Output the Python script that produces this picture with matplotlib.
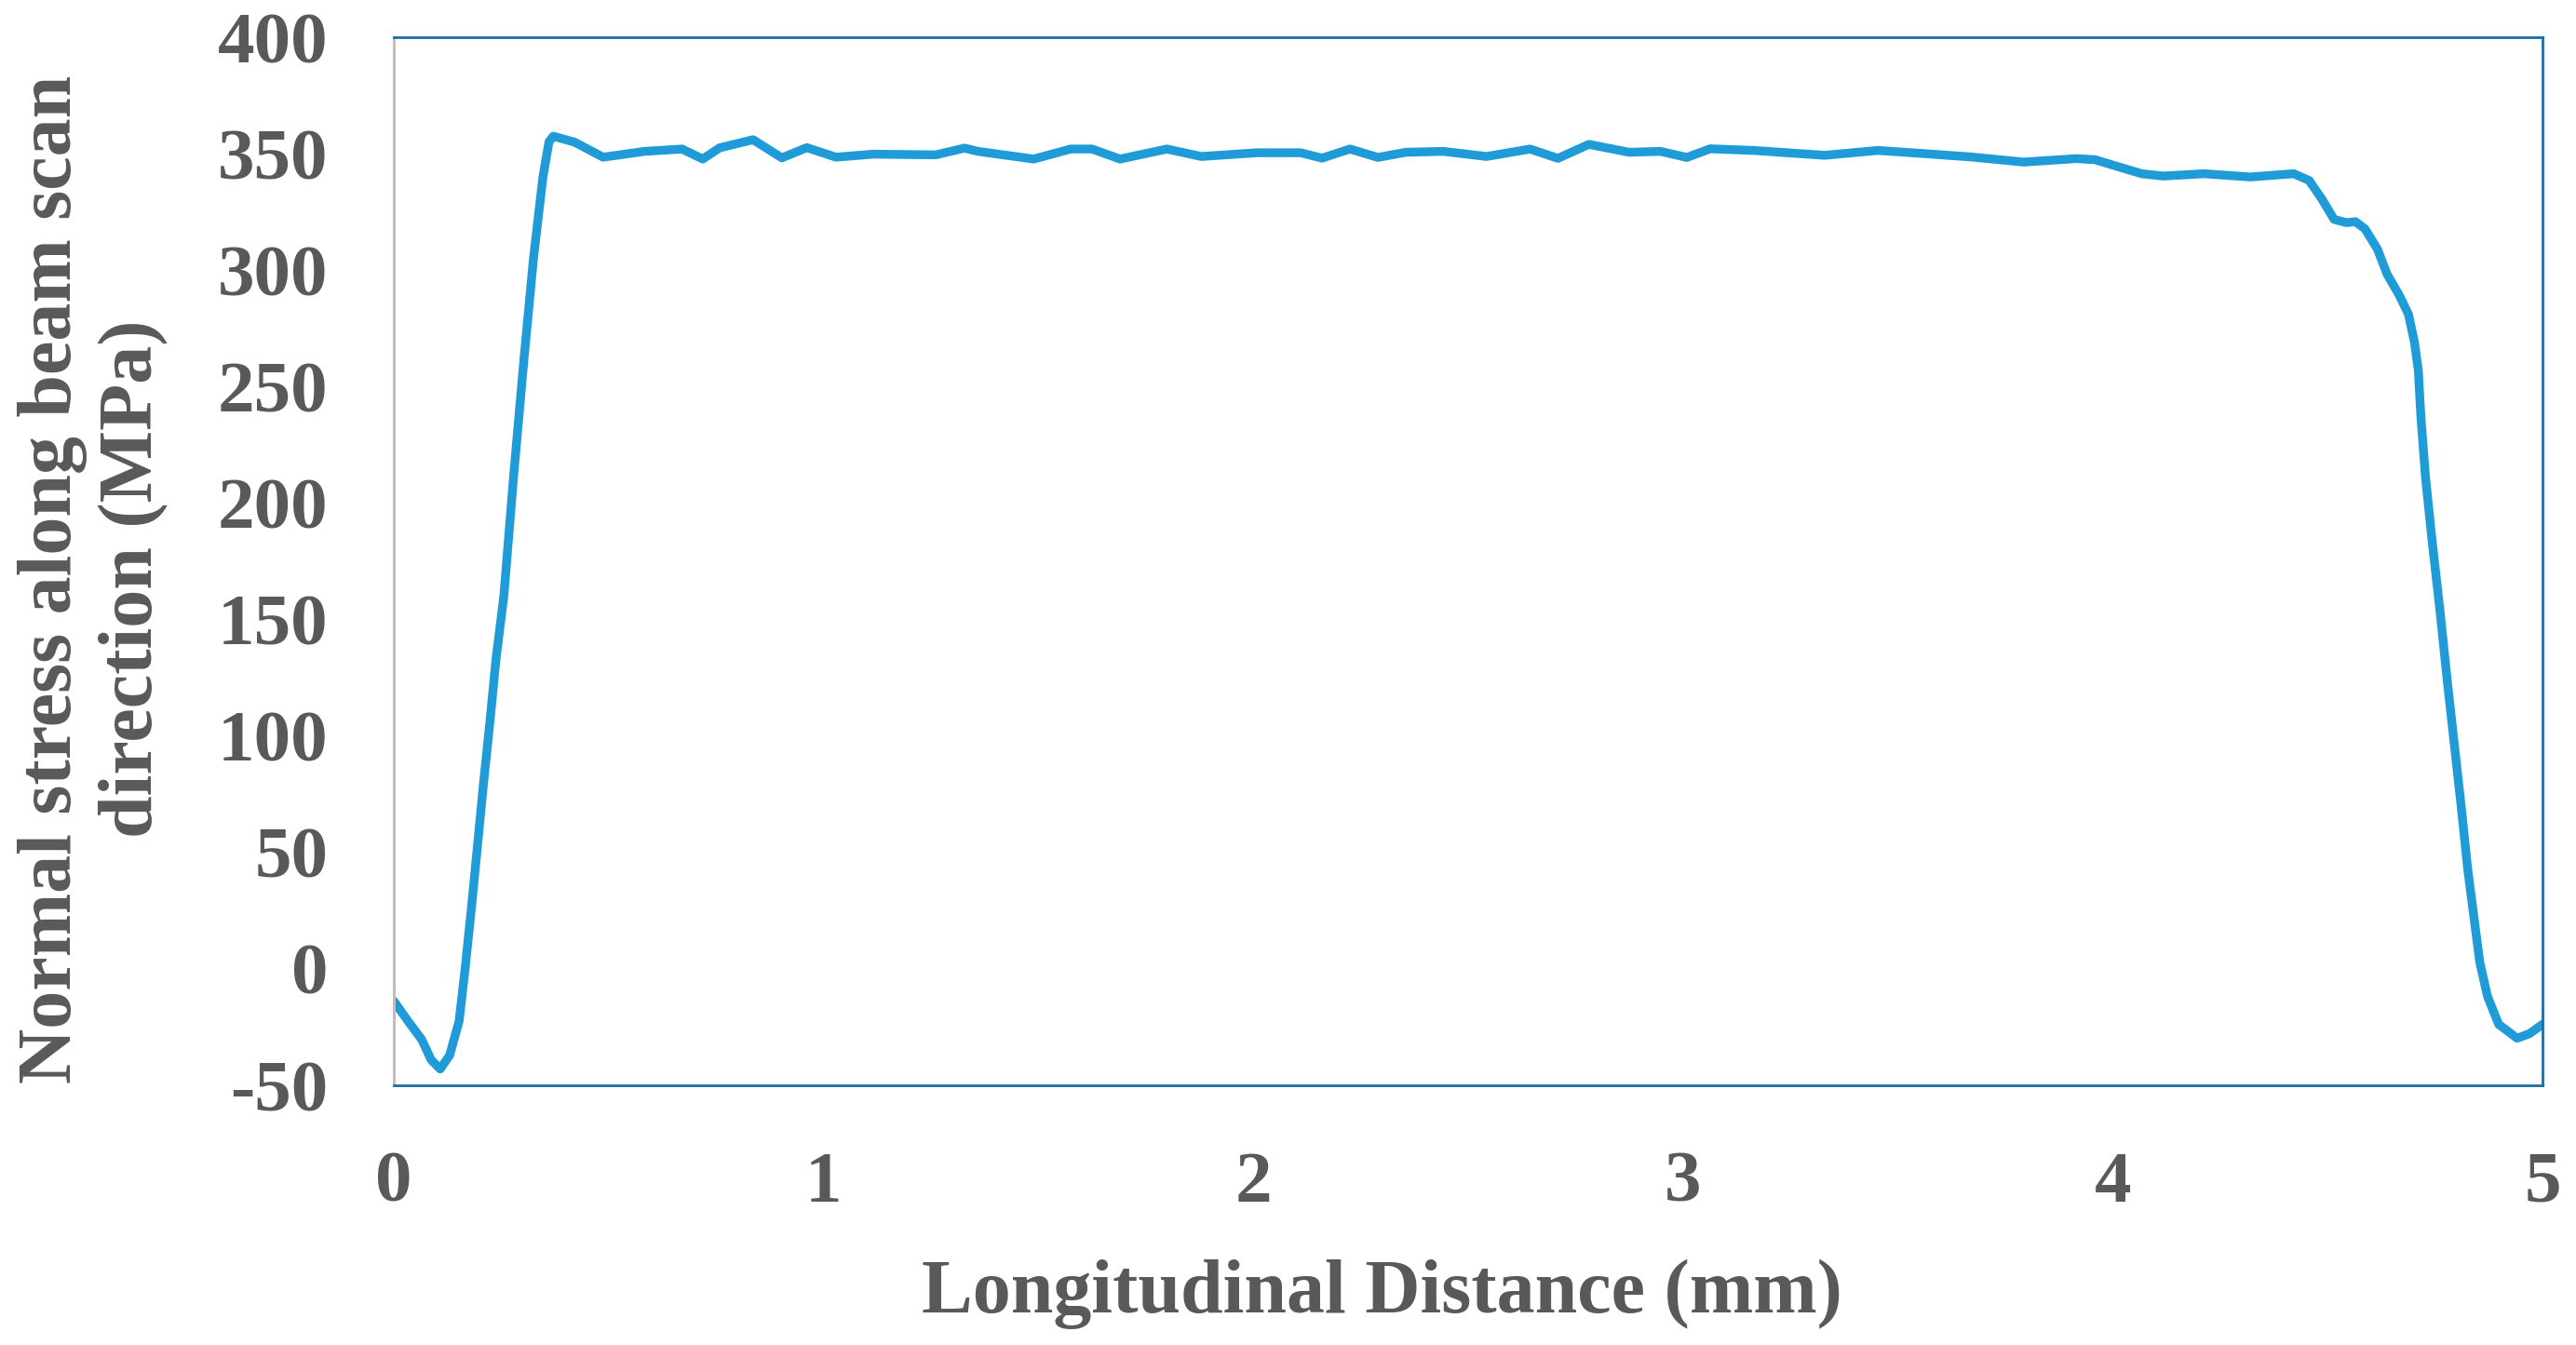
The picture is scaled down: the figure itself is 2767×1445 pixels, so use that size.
import matplotlib
matplotlib.use("Agg")
import matplotlib.pyplot as plt

# Data
distance_mm = [
    0.000, 0.033, 0.065, 0.087, 0.108, 0.130, 0.152, 0.166, 0.181, 0.195,
    0.209, 0.224, 0.238, 0.256, 0.279, 0.303, 0.325, 0.347, 0.361, 0.371,
    0.420, 0.487, 0.584, 0.671, 0.719, 0.758, 0.836, 0.903, 0.961, 1.029,
    1.116, 1.261, 1.328, 1.359, 1.489, 1.575, 1.625, 1.690, 1.799, 1.879,
    2.009, 2.110, 2.160, 2.225, 2.290, 2.355, 2.442, 2.543, 2.644, 2.709,
    2.781, 2.875, 2.947, 3.009, 3.063, 3.164, 3.330, 3.453, 3.525, 3.670,
    3.793, 3.916, 3.959, 4.067, 4.118, 4.212, 4.320, 4.421, 4.457, 4.486,
    4.515, 4.544, 4.565, 4.587, 4.616, 4.638, 4.667, 4.688, 4.702, 4.711,
    4.717, 4.728, 4.743, 4.761, 4.779, 4.795, 4.811, 4.826, 4.840, 4.854,
    4.872, 4.898, 4.941, 4.970, 5.000,
]
stress_mpa = [
    -13.8, -22.4, -30.4, -39.1, -43.0, -37.1, -22.4, 0.2, 26.8, 53.4,
    80.1, 106.7, 133.3, 160.0, 212.0, 262.0, 305.0, 340.0, 355.0, 357.5,
    355.0, 348.5, 351.0, 352.0, 347.7, 352.5, 356.0, 348.2, 352.6, 348.5,
    349.8, 349.5, 352.4, 351.0, 347.7, 352.0, 352.0, 347.7, 352.0, 348.8,
    350.4, 350.4, 348.1, 352.0, 348.4, 350.6, 351.0, 348.8, 352.0, 348.0,
    354.0, 350.6, 351.0, 348.4, 352.1, 351.4, 349.3, 351.4, 350.5, 348.6,
    346.4, 347.9, 347.4, 341.4, 340.4, 341.4, 340.0, 341.4, 338.5, 330.7,
    321.8, 320.4, 320.8, 317.7, 309.0, 298.4, 289.1, 281.1, 269.1, 257.1,
    237.2, 210.6, 184.0, 154.5, 122.7, 96.1, 69.4, 42.8, 22.8, 2.9,
    -11.8, -23.8, -29.8, -27.8, -23.8,
]
x_ticks = [0, 1, 2, 3, 4, 5]
y_ticks = [-50, 0, 50, 100, 150, 200, 250, 300, 350, 400]

x_label = "Longitudinal Distance (mm)"
y_label = "Normal stress along beam scan\ndirection (MPa)"

text_color = "#595959"
font = ["Liberation Serif", "DejaVu Serif"]

fig = plt.figure(figsize=(27.67, 14.45), dpi=100)
ax = fig.add_axes([423 / 2767, 1 - 1166 / 1445, (2731 - 423) / 2767, (1166 - 40) / 1445])

ax.plot(distance_mm, stress_mpa, color="#1f9bd7", lw=6.8, solid_joinstyle="round",
        solid_capstyle="round", clip_on=True)

ax.set_xlim(0, 5)
ax.set_ylim(-50, 400)
ax.set_xticks(x_ticks)
ax.set_yticks(y_ticks)
ax.set_xticklabels([str(v) for v in x_ticks])
ax.set_yticklabels([str(v) for v in y_ticks])
ax.tick_params(axis="both", length=0, pad=51, labelsize=57, labelcolor=text_color)
for lab in ax.get_xticklabels() + ax.get_yticklabels():
    lab.set_family(font)
    lab.set_fontweight("bold")

for side in ["top", "right", "bottom"]:
    ax.spines[side].set_color("#1a6fa0")
    ax.spines[side].set_linewidth(2.0)
ax.spines["left"].set_color("#bfbfbf")
ax.spines["left"].set_linewidth(2.2)

fig.text(1484 / 2767, 1 - 1390 / 1445, x_label, ha="center", va="center",
         fontsize=59, fontweight="bold", color=text_color, family=font)
fig.text(100 / 2767, 1 - 622 / 1445, y_label, ha="center", va="center",
         rotation=90, fontsize=59, fontweight="bold", color=text_color,
         family=font, linespacing=1.22, multialignment="center")

fig.savefig("out.png", dpi=100, facecolor="white")
